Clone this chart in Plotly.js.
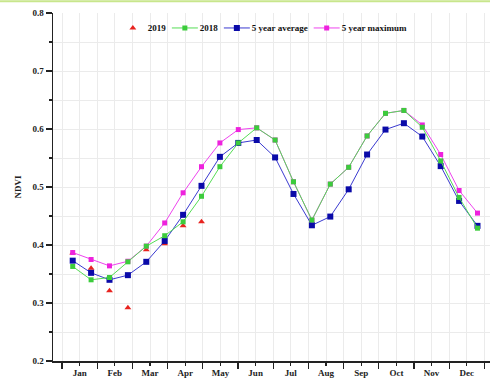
<!DOCTYPE html>
<html>
<head>
<meta charset="utf-8">
<script src="https://cdn.plot.ly/plotly-3.0.1.min.js"></script>
<style>html,body{margin:0;padding:0;background:#fff;}#chart{width:490px;height:379px;}</style>
</head>
<body>
<div id="chart"></div>
<script>
const months = ['Jan','Feb','Mar','Apr','May','Jun','Jul','Aug','Sep','Oct','Nov','Dec'];
const y2019 = [0.386,0.360,0.321,0.292,0.392,0.402,0.433,0.440];
const y2018 = [0.363,0.340,0.344,0.371,0.398,0.416,0.440,0.484,0.535,0.576,0.602,0.581,0.509,0.443,0.505,0.534,0.588,0.627,0.632,0.603,0.545,0.482,0.429];
const avg5 = [0.373,0.352,0.340,0.348,0.371,0.407,0.452,0.502,0.552,0.576,0.581,0.551,0.488,0.434,0.449,0.496,0.556,0.599,0.610,0.587,0.536,0.476,0.433];
const max5 = [0.387,0.375,0.364,0.372,0.398,0.438,0.490,0.535,0.576,0.599,0.602,0.581,0.509,0.443,0.505,0.534,0.588,0.627,0.632,0.607,0.556,0.494,0.455];

const idx = a => a.map((_, i) => i);
const monthStart = -0.58, monthSpan = 1.913;
const boundaries = [], centers = [];
for (let k = 0; k <= months.length; k++) boundaries.push(monthStart + k * monthSpan);
for (let k = 0; k < months.length; k++) centers.push(monthStart + (k + 0.5) * monthSpan);

const F = 'Liberation Serif, Times New Roman, serif';
const traces = [
  {name:'2019', x: idx(y2019), y: y2019, mode:'markers', legendrank:1,
   marker:{symbol:'triangle-up', size:6, color:'#e8231f'}},
  {name:'5 year maximum', x: idx(max5), y: max5, mode:'lines+markers', legendrank:4,
   line:{color:'#ee44ee', width:1}, marker:{symbol:'square', size:5, color:'#ee22dd'}},
  {name:'5 year average', x: idx(avg5), y: avg5, mode:'lines+markers', legendrank:3,
   line:{color:'#3a3ad0', width:1}, marker:{symbol:'square', size:6, color:'#0a0aa8'}},
  {name:'2018', x: idx(y2018), y: y2018, mode:'lines+markers', legendrank:2,
   line:{color:'#55dd55', width:1}, marker:{symbol:'square', size:5, color:'#3ccc3c'}}
];

const layout = {
  width: 490, height: 379,
  margin: {l:53, r:0, t:13, b:18},
  paper_bgcolor:'#fff', plot_bgcolor:'#fff',
  font: {family: F, size: 9, color:'#222', weight:'bold'},
  showlegend: true,
  legend: {orientation:'h', x:0.153, y:0.957, xanchor:'left', yanchor:'middle',
    bgcolor:'rgba(0,0,0,0)', font:{family:F, size:9, color:'#111', weight:'bold'},
    itemwidth:30, tracegroupgap:0},
  xaxis: {
    range: [-1.071, 22.68], zeroline:false,
    tickmode:'array', tickvals: centers, ticktext: months,
    ticks:'outside', ticklen:3, tickwidth:1.2, tickcolor:'#222',
    showgrid:true, gridcolor:'#ebebeb', gridwidth:1,
    showline:true, linecolor:'#222', linewidth:1.5,
    tickfont:{family:F, size:9, color:'#222', weight:'bold'},
    minor:{tickmode:'array', tickvals: boundaries, ticks:'outside', ticklen:6, tickwidth:1.2,
      tickcolor:'#222', showgrid:true, gridcolor:'#ebebeb', gridwidth:1}
  },
  yaxis: {
    range: [0.2, 0.8], zeroline:false,
    tickmode:'array', tickvals:[0.2,0.3,0.4,0.5,0.6,0.7,0.8],
    ticktext:['0.2','0.3','0.4','0.5','0.6','0.7','0.8'],
    ticks:'outside', ticklen:6, tickwidth:1.2, tickcolor:'#222',
    showgrid:true, gridcolor:'#ebebeb', gridwidth:1,
    showline:true, linecolor:'#222', linewidth:1.5,
    tickfont:{family:F, size:9, color:'#222', weight:'bold'},
    minor:{tickmode:'array', tickvals:[0.25,0.35,0.45,0.55,0.65,0.75], ticks:'outside', ticklen:3,
      tickwidth:1.2, tickcolor:'#222', showgrid:true, gridcolor:'#ebebeb', gridwidth:1},
    title:{text:'NDVI', standoff:9, font:{family:F, size:9, color:'#222', weight:'bold'}}
  },
  shapes: [{type:'line', xref:'paper', yref:'paper', x0:-0.2, x1:1.05, y0:1.034, y1:1.034,
    line:{color:'#c8e68c', width:2}}]
};

Plotly.newPlot('chart', traces, layout, {displayModeBar:false, staticPlot:true}).then(() => {
  // compact legend: shorter line samples like the original
  const items = Array.from(document.querySelectorAll('.legend .traces'));
  if (!items.length) return;
  const m0 = /translate\(([-\d.]+)[ ,]+([-\d.]+)\)/.exec(items[0].getAttribute('transform') || '');
  let x = m0 ? parseFloat(m0[1]) : 0;
  items.forEach(g => {
    const m = /translate\(([-\d.]+)[ ,]+([-\d.]+)\)/.exec(g.getAttribute('transform') || '');
    const y = m ? parseFloat(m[2]) : 0;
    g.querySelectorAll('.legendlines path').forEach(p => p.setAttribute('d', 'M0,0h26'));
    g.querySelectorAll('.legendpoints path').forEach(p => p.setAttribute('transform', 'translate(13,0)'));
    const t = g.querySelector('.legendtext');
    let w = 0;
    if (t) { t.setAttribute('x', 28); w = t.getComputedTextLength(); }
    g.setAttribute('transform', 'translate(' + x + ',' + y + ')');
    x += 28 + w + 6;
  });
});
</script>
</body>
</html>
